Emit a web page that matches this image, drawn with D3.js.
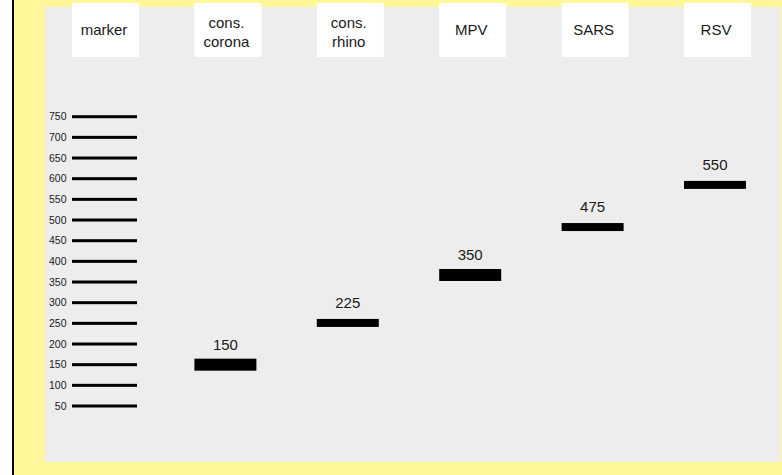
<!DOCTYPE html>
<html>
<head>
<meta charset="utf-8">
<script src="https://cdn.jsdelivr.net/npm/d3@7/dist/d3.min.js"></script>
<style>
  html, body { margin: 0; padding: 0; background: #ffffff; }
  svg { display: block; }
  text { font-family: "Liberation Sans", Arial, sans-serif; fill: #1a1a1a; }
</style>
</head>
<body>
<script>
// ---------- data ----------
const lanes = ["marker", "cons. corona", "cons. rhino", "MPV", "SARS", "RSV"];
const laneHeaderLines = [["marker"], ["cons.", "corona"], ["cons.", "rhino"], ["MPV"], ["SARS"], ["RSV"]];
const ladderSizes = [750, 700, 650, 600, 550, 500, 450, 400, 350, 300, 250, 200, 150, 100, 50];
const sampleLanes = ["cons. corona", "cons. rhino", "MPV", "SARS", "RSV"];
const sampleLabels = [150, 225, 350, 475, 550];
// apparent band position read against the ladder (bp)
const sampleBandPos = [150, 251, 367, 483, 585];

// ---------- layout ----------
const W = 782, H = 475;
const svg = d3.select("body").append("svg").attr("width", W).attr("height", H);

svg.append("rect").attr("x", 0).attr("y", 0).attr("width", W).attr("height", H).attr("fill", "#ffffff");
svg.append("rect").attr("x", 14).attr("y", 0).attr("width", W - 14).attr("height", H).attr("fill", "#fff799");
svg.append("rect").attr("x", 12).attr("y", 0).attr("width", 2).attr("height", H).attr("fill", "#000000");
svg.append("rect").attr("x", 45).attr("y", 7).attr("width", 781 - 45).attr("height", 462 - 7).attr("fill", "#ededed");

const x = d3.scalePoint().domain(lanes).range([72, 684]);
const y = d3.scaleLinear().domain([50, 750]).range([406, 116.7]);

const boxW = 67, bandW = 62, markerW = 65;

// header boxes
const headers = svg.append("g").selectAll("g").data(lanes).join("g");
headers.append("rect")
  .attr("x", d => x(d)).attr("y", 3)
  .attr("width", boxW).attr("height", 54)
  .attr("fill", "#ffffff");
headers.each(function(d, i) {
  const lines = laneHeaderLines[i];
  const g = d3.select(this);
  const ys = lines.length === 1 ? [34.5] : [28, 46.5];
  lines.forEach((t, j) => {
    g.append("text")
      .attr("x", x(d) + 32).attr("y", ys[j])
      .attr("text-anchor", "middle")
      .attr("font-size", 15)
      .text(t);
  });
});

// ladder
const ladder = svg.append("g");
ladder.selectAll("rect").data(ladderSizes).join("rect")
  .attr("x", x("marker")).attr("y", d => y(d) - 1.5)
  .attr("width", markerW).attr("height", 3)
  .attr("fill", "#000000");
ladder.selectAll("text").data(ladderSizes).join("text")
  .attr("x", 66.5).attr("y", d => y(d) + 3.5)
  .attr("text-anchor", "end")
  .attr("font-size", 10.5)
  .text(d => d);

// sample bands
const bandThickness = [12, 8, 12, 8, 8];
const samples = sampleLanes.map((lane, i) => ({ lane, label: sampleLabels[i], pos: sampleBandPos[i], i }));
const sg = svg.append("g");
sg.selectAll("rect").data(samples).join("rect")
  .attr("x", d => x(d.lane)).attr("y", d => y(d.pos) - bandThickness[d.i] / 2)
  .attr("width", bandW).attr("height", d => bandThickness[d.i])
  .attr("fill", "#000000");
sg.selectAll("text").data(samples).join("text")
  .attr("x", d => x(d.lane) + 31).attr("y", d => y(d.pos) - 15)
  .attr("text-anchor", "middle")
  .attr("font-size", 15)
  .text(d => d.label);
</script>
</body>
</html>
